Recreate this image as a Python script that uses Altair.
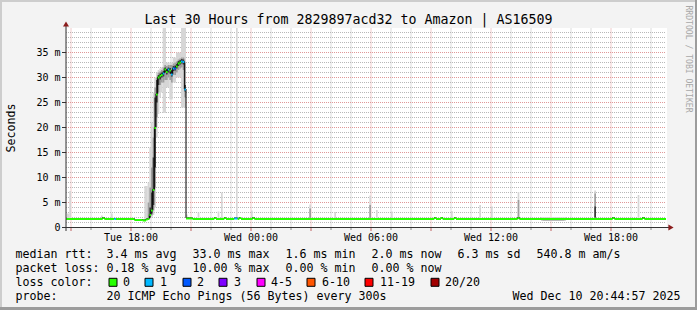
import altair as alt
import pandas as pd

MONO = "DejaVu Sans Mono"

# ---------------- data ----------------
chart_title = "Last 30 Hours from 2829897acd32 to Amazon | AS16509"
y_axis_title = "Seconds"
watermark_text = "RRDTOOL / TOBI OETIKER"
time_start = "Tue 14:45"
time_end = "Wed 20:45"
x_tick_labels = ["Tue 18:00", "Wed 00:00", "Wed 06:00", "Wed 12:00", "Wed 18:00"]
y_tick_values = [0, 5, 10, 15, 20, 25, 30, 35]
y_tick_labels = ["0", "5 m", "10 m", "15 m", "20 m", "25 m", "30 m", "35 m"]
y_top = 40

# median rtt (ms) step breakpoints and number of lost pings
median_time = [
    "Tue 14:45", "Tue 16:35", "Tue 16:40", "Tue 17:10", "Tue 17:15", "Tue 18:10",
    "Tue 18:35", "Tue 18:45", "Tue 18:50", "Tue 18:55", "Tue 19:00", "Tue 19:05",
    "Tue 19:10", "Tue 19:15", "Tue 19:20", "Tue 19:25", "Tue 19:30", "Tue 19:35",
    "Tue 19:40", "Tue 19:45", "Tue 19:50", "Tue 19:55", "Tue 20:00", "Tue 20:05",
    "Tue 20:10", "Tue 20:15", "Tue 20:20", "Tue 20:25", "Tue 20:30", "Tue 20:35",
    "Tue 20:40", "Tue 20:45", "Tue 21:05", "Tue 22:10", "Tue 22:15", "Tue 22:40",
    "Tue 22:45", "Tue 23:10", "Tue 23:20", "Tue 23:25", "Tue 23:30", "Wed 00:05",
    "Wed 00:10", "Wed 09:10", "Wed 09:15", "Wed 09:30", "Wed 09:35", "Wed 10:10",
    "Wed 10:15", "Wed 13:20", "Wed 13:25", "Wed 18:05", "Wed 18:10", "Wed 19:35",
    "Wed 19:40", "Wed 20:45",
]
median_ms = [
    1.8, 2.0, 1.8, 1.8, 1.8, 1.6,
    1.5, 1.7, 1.8, 2.6, 3.5, 7.6,
    20.0, 26.7, 30.1, 30.4, 30.6, 30.9,
    31.7, 31.2, 31.7, 31.5, 30.7, 31.9,
    31.9, 32.3, 32.9, 33.1, 33.3, 33.2,
    27.7, 1.9, 1.8, 2.0, 1.8, 2.0,
    1.8, 1.9, 1.8, 2.0, 1.8, 2.0,
    1.8, 2.0, 1.8, 2.0, 1.8, 2.0,
    1.8, 2.0, 1.8, 2.0, 1.8, 2.0,
    1.8, 1.8,
]
median_loss = [
    0, 0, 0, 1, 0, 0,
    0, 0, 0, 0, 0, 0,
    0, 0, 0, 0, 0, 1,
    0, 0, 1, 0, 1, 1,
    2, 0, 0, 0, 1, 1,
    1, 0, 0, 0, 0, 0,
    0, 1, 0, 0, 0, 0,
    0, 0, 0, 0, 0, 0,
    0, 0, 0, 0, 0, 0,
    0, 0,
]

# smoke (spread of the 20 pings): (from, to, low ms, high ms)
smoke_outer = [
    ("Tue 14:45", "Tue 14:55", 1.6, 2.8), ("Tue 14:55", "Tue 15:00", 1.6, 7.3),
    ("Tue 16:30", "Tue 16:35", 1.6, 2.4), ("Tue 17:00", "Tue 17:05", 1.6, 2.8),
    ("Tue 18:40", "Tue 18:50", 1.5, 8.3), ("Tue 18:50", "Tue 18:55", 1.5, 9.0),
    ("Tue 18:55", "Tue 19:00", 1.8, 16.0), ("Tue 19:00", "Tue 19:05", 2.0, 21.0),
    ("Tue 19:05", "Tue 19:10", 2.5, 27.0), ("Tue 19:10", "Tue 19:15", 4.0, 30.0),
    ("Tue 19:15", "Tue 19:20", 18.0, 31.0), ("Tue 19:20", "Tue 19:25", 22.7, 31.5),
    ("Tue 19:25", "Tue 19:30", 26.0, 31.8), ("Tue 19:30", "Tue 19:35", 27.0, 32.0),
    ("Tue 19:35", "Tue 19:45", 22.9, 45.0), ("Tue 19:45", "Tue 19:55", 28.0, 33.0),
    ("Tue 19:55", "Tue 20:05", 25.6, 33.0), ("Tue 20:05", "Tue 20:15", 29.0, 34.0),
    ("Tue 20:15", "Tue 20:30", 30.0, 35.0), ("Tue 20:30", "Tue 20:45", 24.0, 45.0),
    ("Tue 20:45", "Tue 20:50", 1.7, 2.6), ("Tue 21:20", "Tue 21:25", 1.6, 3.0),
    ("Tue 22:20", "Tue 22:25", 1.6, 3.2), ("Tue 22:30", "Tue 22:35", 1.6, 7.0),
    ("Tue 23:15", "Tue 23:20", 1.6, 45.0), ("Wed 00:00", "Wed 00:05", 1.6, 3.4),
    ("Wed 02:55", "Wed 03:00", 1.6, 4.6), ("Wed 04:10", "Wed 04:15", 1.6, 3.1),
    ("Wed 05:55", "Wed 06:00", 1.6, 6.4), ("Wed 06:15", "Wed 06:20", 1.6, 3.5),
    ("Wed 07:00", "Wed 07:05", 1.6, 3.2), ("Wed 10:00", "Wed 10:05", 1.6, 3.3),
    ("Wed 11:25", "Wed 11:30", 1.6, 4.5), ("Wed 12:00", "Wed 12:05", 1.6, 4.2),
    ("Wed 13:20", "Wed 13:25", 1.6, 7.1), ("Wed 14:30", "Wed 15:45", 1.3, 2.1),
    ("Wed 17:10", "Wed 17:15", 1.6, 7.4), ("Wed 19:20", "Wed 19:25", 1.6, 6.5),
]
smoke_mid = [
    ("Tue 18:50", "Tue 18:55", 1.6, 5.0), ("Tue 18:55", "Tue 19:00", 1.9, 8.0),
    ("Tue 19:00", "Tue 19:05", 2.4, 12.0), ("Tue 19:05", "Tue 19:10", 3.4, 18.0),
    ("Tue 19:10", "Tue 19:15", 8.0, 28.0), ("Tue 19:15", "Tue 19:20", 22.0, 30.0),
    ("Tue 19:20", "Tue 19:25", 27.0, 31.0), ("Tue 19:25", "Tue 19:30", 28.5, 31.2),
    ("Tue 19:30", "Tue 19:35", 29.0, 31.5), ("Tue 19:35", "Tue 19:40", 29.0, 32.0),
    ("Tue 19:40", "Tue 19:45", 29.5, 32.5), ("Tue 19:45", "Tue 19:50", 29.5, 32.3),
    ("Tue 19:50", "Tue 19:55", 30.0, 32.5), ("Tue 19:55", "Tue 20:00", 29.5, 32.5),
    ("Tue 20:00", "Tue 20:05", 29.0, 32.5), ("Tue 20:05", "Tue 20:10", 30.5, 32.8),
    ("Tue 20:10", "Tue 20:15", 30.5, 33.0), ("Tue 20:15", "Tue 20:20", 31.0, 33.2),
    ("Tue 20:20", "Tue 20:25", 31.5, 33.6), ("Tue 20:25", "Tue 20:30", 31.8, 33.8),
    ("Tue 20:30", "Tue 20:35", 32.0, 34.0), ("Tue 20:35", "Tue 20:40", 31.5, 34.0),
    ("Tue 20:40", "Tue 20:45", 26.0, 33.0), ("Wed 02:55", "Wed 03:00", 1.7, 3.8),
    ("Wed 05:55", "Wed 06:00", 1.7, 4.5), ("Wed 13:20", "Wed 13:25", 1.7, 5.5),
    ("Wed 14:35", "Wed 15:40", 1.4, 1.8), ("Wed 17:10", "Wed 17:15", 1.7, 6.8),
]
smoke_inner = [
    ("Tue 18:55", "Tue 19:00", 2.0, 4.0), ("Tue 19:00", "Tue 19:05", 2.8, 7.0),
    ("Tue 19:05", "Tue 19:10", 4.5, 14.0), ("Tue 19:10", "Tue 19:15", 12.0, 26.0),
    ("Tue 19:15", "Tue 19:20", 25.0, 29.5), ("Tue 19:20", "Tue 19:25", 28.5, 30.5),
    ("Tue 19:25", "Tue 19:30", 29.6, 30.8), ("Tue 19:30", "Tue 19:35", 30.0, 31.0),
    ("Tue 19:35", "Tue 19:40", 30.2, 31.3), ("Tue 19:40", "Tue 19:45", 31.0, 32.0),
    ("Tue 19:45", "Tue 19:50", 30.6, 31.6), ("Tue 19:50", "Tue 19:55", 31.0, 32.0),
    ("Tue 19:55", "Tue 20:00", 30.8, 31.9), ("Tue 20:00", "Tue 20:05", 30.2, 31.4),
    ("Tue 20:05", "Tue 20:10", 31.3, 32.3), ("Tue 20:10", "Tue 20:15", 31.4, 32.4),
    ("Tue 20:15", "Tue 20:20", 31.8, 32.7), ("Tue 20:20", "Tue 20:25", 32.3, 33.3),
    ("Tue 20:25", "Tue 20:30", 32.6, 33.5), ("Tue 20:30", "Tue 20:35", 32.8, 33.7),
    ("Tue 20:35", "Tue 20:40", 32.6, 33.6), ("Tue 20:40", "Tue 20:45", 27.2, 28.5),
    ("Wed 17:10", "Wed 17:15", 2.0, 4.2),
]

loss_labels = ["0", "1", "2", "3", "4-5", "6-10", "11-19", "20/20"]
loss_colors = ["#26ff00", "#00b8ff", "#0059ff", "#7e00ff", "#ff00ff", "#ff5500", "#ff0000", "#a10000"]

rtt_label = "median rtt:"
rtt_stats = ["3.4 ms avg", "33.0 ms max", "1.6 ms min", "2.0 ms now", "6.3 ms sd", "540.8 m am/s"]
pl_label = "packet loss:"
pl_stats = ["0.18 % avg", "10.00 % max", "0.00 % min", "0.00 % now"]
lc_label = "loss color:"
probe_label = "probe:"
probe_text = "20 ICMP Echo Pings (56 Bytes) every 300s"
timestamp = "Wed Dec 10 20:44:57 2025"

# ---------------- styles / layout ----------------
BG = "#f3f3f3"
GRID = "#b8b8b8"
MGRID = "#e09898"
AXIS = "#333333"
ARROW = "#8b1c1c"
SHADE_A = "#cdcdcd"
SHADE_B = "#9c9c9c"
W, H = 600, 200
PAD_L, PAD_T = 67, 28
CH = 7.0          # legend char advance
LEG_FS = 11.63
AX_FS = 10


def hrs(s):
    d, hm = s.split()
    h, m = hm.split(":")
    return (24 if d == "Wed" else 0) + int(h) + int(m) / 60.0


def bucket(n):
    if n <= 3:
        return str(n)
    if n <= 5:
        return "4-5"
    if n <= 10:
        return "6-10"
    if n <= 19:
        return "11-19"
    return "20/20"


t0, t1 = hrs(time_start), hrs(time_end)
# ranges shifted so that 1px lines land on whole pixels
xs = alt.Scale(domain=[t0, t1], range=[-1, W - 1], nice=False, zero=False)
ys = alt.Scale(domain=[0, y_top], range=[H - 0.5, -0.5], nice=False)

hours = list(range(int(t0) + 1, int(t1) + 1))
v_major = [h for h in hours if h % 3 == 0]
v_minor = [h for h in hours if h % 3 != 0]
h_major = list(range(5, y_top, 5))
h_minor = [v for v in range(1, y_top) if v % 5 != 0]

X = lambda f: alt.X(f, scale=xs, axis=None)
Y = lambda f: alt.Y(f, scale=ys, axis=None)

ONE = pd.DataFrame({"k": [1]})
layers = []

# grid: vertical lines span the y domain, horizontal lines span the x domain
vgrid_minor = pd.DataFrame({"h": v_minor, "lo": 0, "hi": y_top})
vgrid_major = pd.DataFrame({"h": v_major, "lo": 0, "hi": y_top})
hgrid_minor = pd.DataFrame({"v": h_minor, "a": t0, "b": t1})
hgrid_major = pd.DataFrame({"v": h_major, "a": t0, "b": t1})

layers.append(alt.Chart(vgrid_minor).mark_rule(color=GRID, strokeDash=[1, 1])
              .encode(x=X("h:Q"), y=Y("lo:Q"), y2="hi:Q"))
layers.append(alt.Chart(hgrid_minor).mark_rule(color=GRID, strokeDash=[1, 1])
              .encode(y=Y("v:Q"), x=X("a:Q"), x2="b:Q"))
layers.append(alt.Chart(vgrid_major).mark_rule(color=MGRID, strokeDash=[1, 1])
              .encode(x=X("h:Q"), y=Y("lo:Q"), y2="hi:Q"))
layers.append(alt.Chart(hgrid_major).mark_rule(color=MGRID, strokeDash=[1, 1])
              .encode(y=Y("v:Q"), x=X("a:Q"), x2="b:Q"))


# smoke
def smoke_layer(rows, color):
    df = pd.DataFrame(rows, columns=["from", "to", "lo", "hi"])
    df["a"] = df["from"].map(hrs)
    df["b"] = df["to"].map(hrs)
    return alt.Chart(df).mark_rect(color=color, clip=True).encode(
        x=X("a:Q"), x2="b:Q", y=Y("lo:Q"), y2="hi:Q",
    )


layers.append(smoke_layer(smoke_outer, "#d6d6d6"))
layers.append(smoke_layer(smoke_mid, "#9e9e9e"))
layers.append(smoke_layer(smoke_inner, "#3a3a3a"))

# median
med = pd.DataFrame({
    "t": [hrs(s) for s in median_time],
    "ms": median_ms,
    "loss": [bucket(n) for n in median_loss],
})
med["t2"] = med["t"].shift(-1)
seg = med.iloc[:-1].copy()

layers.append(
    alt.Chart(med).mark_line(interpolate="step-after", color="#000000", strokeWidth=1)
    .encode(x=X("t:Q"), y=Y("ms:Q"), order="t:Q")
)
layers.append(
    alt.Chart(seg).mark_rule(strokeWidth=2, yOffset=0.5)
    .encode(
        x=X("t:Q"), x2="t2:Q", y=Y("ms:Q"),
        color=alt.Color("loss:N", scale=alt.Scale(domain=loss_labels, range=loss_colors), legend=None),
    )
)

# axes lines, ticks, arrows
tick_lo = pd.DataFrame({"h": v_minor})
tick_hi = pd.DataFrame({"h": v_major})
layers.append(alt.Chart(tick_lo).mark_rule(color="#8a8a8a")
              .encode(x=X("h:Q"), y=alt.value(H), y2=alt.value(H + 2)))
layers.append(alt.Chart(tick_hi).mark_rule(color="#c06262")
              .encode(x=X("h:Q"), y=alt.value(H), y2=alt.value(H + 3)))
layers.append(alt.Chart(pd.DataFrame({"v": y_tick_values})).mark_rule(color=AXIS)
              .encode(y=Y("v:Q"), x=alt.value(-5), x2=alt.value(-1)))
layers.append(alt.Chart(ONE).mark_rule(color=AXIS)
              .encode(x=alt.value(-1), y=alt.value(-4), y2=alt.value(H + 3)))
layers.append(alt.Chart(ONE).mark_rule(color=AXIS)
              .encode(x=alt.value(-5), x2=alt.value(W + 3), y=alt.value(H - 0.5)))
layers.append(alt.Chart(ONE).mark_point(shape="triangle-up", filled=True, size=36, color=ARROW, opacity=1)
              .encode(x=alt.value(-1), y=alt.value(-4)))
layers.append(alt.Chart(ONE).mark_point(shape="triangle-right", filled=True, size=36, color=ARROW, opacity=1)
              .encode(x=alt.value(W + 4), y=alt.value(H - 0.5)))

# tick labels
xlab = pd.DataFrame({"h": [hrs(s) for s in x_tick_labels], "label": x_tick_labels})
layers.append(alt.Chart(xlab).mark_text(font=MONO, fontSize=AX_FS, color="#000000", align="center",
                                        baseline="alphabetic")
              .encode(x=X("h:Q"), y=alt.value(H + 13.3), text="label:N"))
ylab = pd.DataFrame({"v": y_tick_values, "label": y_tick_labels})
layers.append(alt.Chart(ylab).mark_text(font=MONO, fontSize=AX_FS, color="#000000", align="right",
                                        baseline="middle", dx=-6.5)
              .encode(y=Y("v:Q"), x=alt.value(0), text="label:N"))


# texts
def text_layer(s, x, y, size, color="#000000", align="left", angle=0, baseline="alphabetic"):
    return alt.Chart(ONE).mark_text(
        text=s, font=MONO, fontSize=size, color=color, align=align, angle=angle, baseline=baseline
    ).encode(x=alt.value(x), y=alt.value(y))


layers.append(text_layer(chart_title, 348.5 - PAD_L, 24 - PAD_T, 13.29, align="center"))
layers.append(text_layer(y_axis_title, 15 - PAD_L, 128 - PAD_T, LEG_FS, align="center", angle=270))
layers.append(text_layer(watermark_text, 685.5 - PAD_L, 59 - PAD_T, 8.1, color="#a8a8a8",
                         align="center", angle=90))

x_left = 15.5 - PAD_L
x_col = x_left + 13 * CH
base = [258.3 - PAD_T + 14 * i for i in range(4)]


def stat_row(label, items, y):
    out = [text_layer(label, x_left, y, LEG_FS)]
    x = x_col
    for it in items:
        out.append(text_layer(it, x, y, LEG_FS))
        x += len(it) * CH + 16
    return out


layers += stat_row(rtt_label, rtt_stats, base[0])
layers += stat_row(pl_label, pl_stats, base[1])
layers.append(text_layer(lc_label, x_left, base[2], LEG_FS))
bx = x_col + 2
for lab, col in zip(loss_labels, loss_colors):
    bl = round(bx)
    layers.append(
        alt.Chart(ONE).mark_rect(fill=col, stroke="#000000", strokeWidth=1)
        .encode(x=alt.value(bl), x2=alt.value(bl + 8), y=alt.value(base[2] - 8), y2=alt.value(base[2]))
    )
    layers.append(text_layer(lab, bx + 14.5, base[2], LEG_FS))
    bx += 15 + len(lab) * CH + 15
layers.append(text_layer(probe_label, x_left, base[3], LEG_FS))
layers.append(text_layer(probe_text, x_col, base[3], LEG_FS))
layers.append(text_layer(timestamp, 680.5 - PAD_L, base[3], LEG_FS, align="right"))

# image border (3D frame)
FW, FH = 697, 310
layers.append(alt.Chart(ONE).mark_rule(color=SHADE_A, strokeWidth=2)
              .encode(x=alt.value(-PAD_L), x2=alt.value(FW - PAD_L), y=alt.value(1 - PAD_T)))
layers.append(alt.Chart(ONE).mark_rule(color=SHADE_A, strokeWidth=2)
              .encode(x=alt.value(1 - PAD_L), y=alt.value(-PAD_T), y2=alt.value(FH - PAD_T)))
layers.append(alt.Chart(ONE).mark_rule(color=SHADE_B, strokeWidth=3)
              .encode(x=alt.value(-PAD_L), x2=alt.value(FW - PAD_L), y=alt.value(FH - 1.5 - PAD_T)))
layers.append(alt.Chart(ONE).mark_rule(color=SHADE_B, strokeWidth=2)
              .encode(x=alt.value(FW - 1 - PAD_L), y=alt.value(-PAD_T), y2=alt.value(FH - PAD_T)))

chart = (
    alt.layer(*layers)
    .properties(
        width=W, height=H,
        padding={"left": PAD_L, "top": PAD_T, "right": FW - PAD_L - W, "bottom": FH - PAD_T - H},
        autosize=alt.AutoSizeParams(type="none"),
    )
    .configure(background=BG, font=MONO)
    .configure_view(fill="#ffffff", stroke=None)
)

chart.save("out.html", embed_options={"renderer": "svg", "actions": False})
